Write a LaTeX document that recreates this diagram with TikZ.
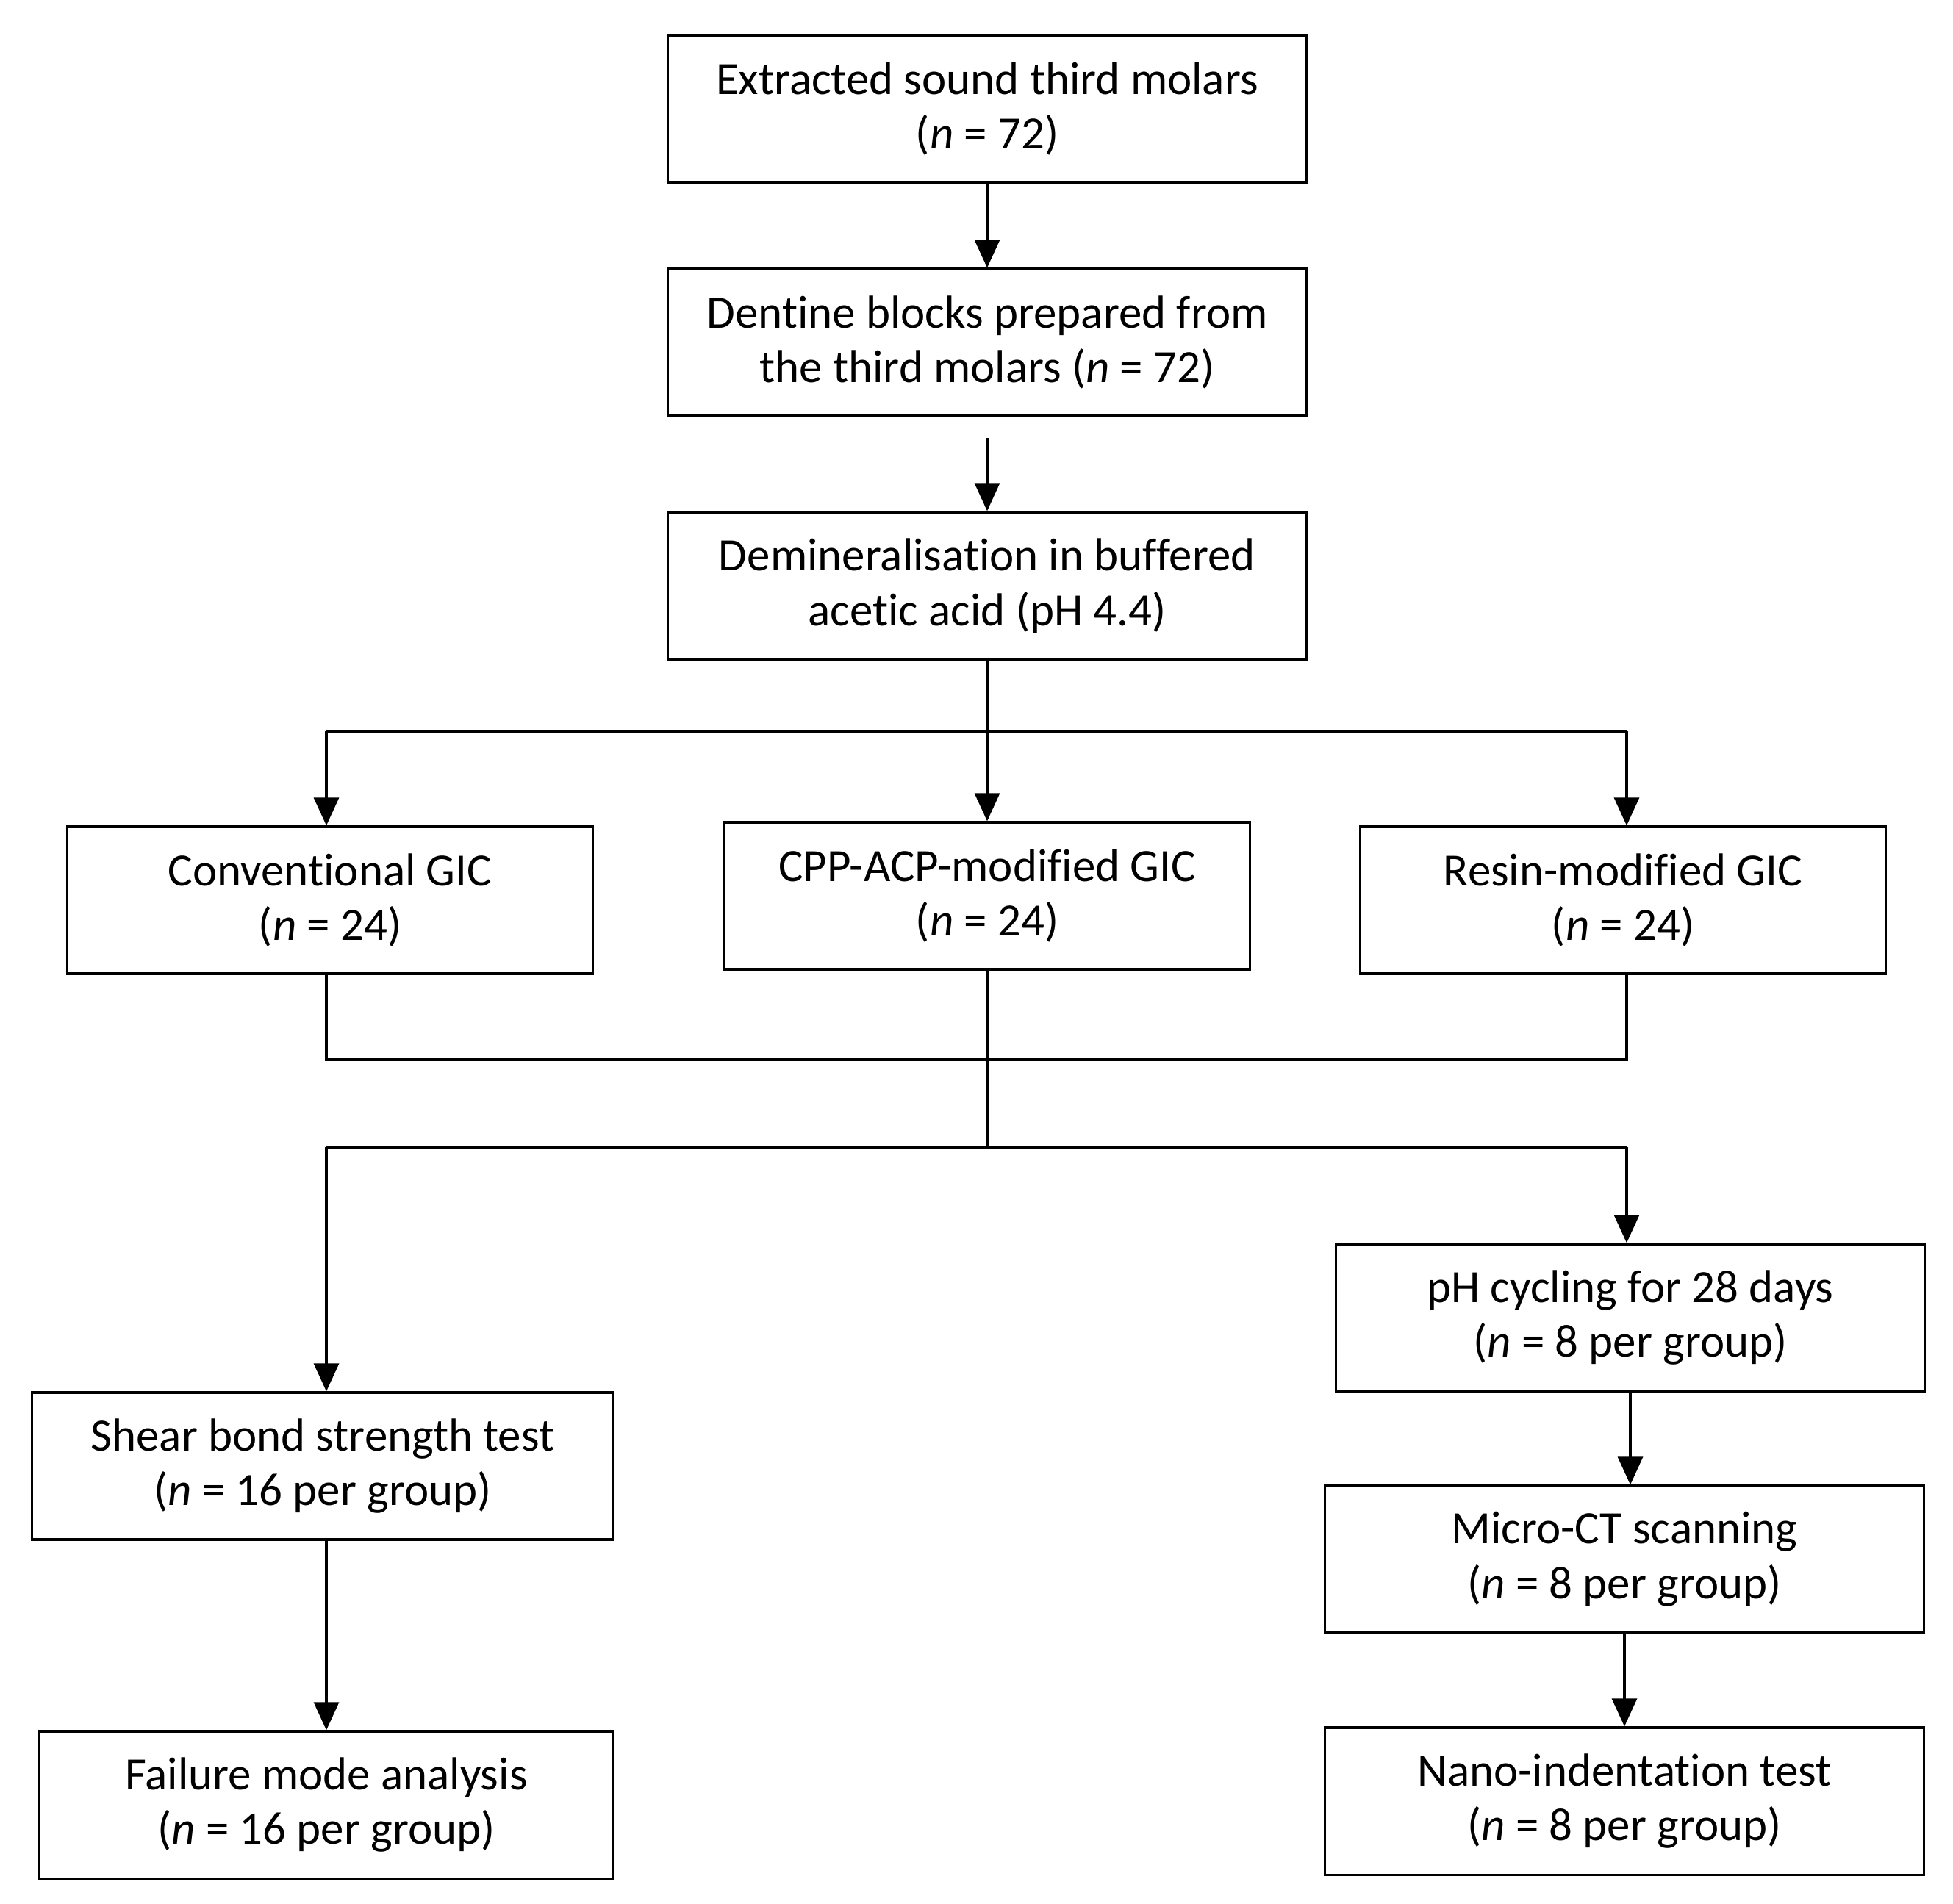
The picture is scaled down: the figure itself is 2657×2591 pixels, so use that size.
\documentclass[tikz,border=0pt]{standalone}
\usepackage{fontspec}
\setmainfont[RawFeature={-liga;-clig;-calt;-dlig}]{Carlito}
\usepackage{tikz}
\usetikzlibrary{arrows.meta, calc}

\begin{document}
\begin{tikzpicture}
		[x=0.01cm,y=-0.01cm,line cap=butt,
		%Styles
		flow box/.style={draw=framecolor,line width=0.9pt,minimum height=2cm,inner sep=0pt,
			align=center,font=\fontsize{17.9}{21.3}\selectfont,minimum width=#1},
		flow line/.style={draw=framecolor,line width=0.9pt},
		flow arrow/.style={flow line,-{Triangle[length=0.38cm,width=0.34cm]}}
		]
		
		%Colors
		\colorlet{framecolor}{black}	%boxes and connectors
		
		%The graphic
		\useasboundingbox (0,0) rectangle (2657,2591);
		
		\node[flow box=8.69cm] (extracted) at (1343,148) {Extracted sound third molars\\(\textit{n} = 72)};
		\node[flow box=8.69cm] (dentine) at (1343,466) {Dentine blocks prepared from\\the third molars (\textit{n} = 72)};
		\node[flow box=8.69cm] (demin) at (1343,797) {Demineralisation in buffered\\acetic acid (pH 4.4)};
		
		\node[flow box=7.15cm] (conv) at (449,1225) {Conventional GIC\\(\textit{n} = 24)};
		\node[flow box=7.15cm] (cppacp) at (1343,1219) {CPP-ACP-modified GIC\\(\textit{n} = 24)};
		\node[flow box=7.15cm] (resin) at (2208,1225) {Resin-modified GIC\\(\textit{n} = 24)};
		
		\node[flow box=8.0cm] (cycling) at (2218,1793) {pH cycling for 28 days\\(\textit{n} = 8 per group)};
		\node[flow box=8.15cm] (microct) at (2210,2122) {Micro-CT scanning\\(\textit{n} = 8 per group)};
		\node[flow box=8.15cm] (nano) at (2210,2451) {Nano-indentation test\\(\textit{n} = 8 per group)};
		
		\node[flow box=7.9cm] (shear) at (439,1995) {Shear bond strength test\\(\textit{n} = 16 per group)};
		\node[flow box=7.8cm] (failure) at (444,2456) {Failure mode analysis\\(\textit{n} = 16 per group)};
		
		\coordinate (split) at (1343,995);
		\coordinate (merge) at (1343,1442);
		\coordinate (fork) at (1343,1561);
		\coordinate (left lane) at (444,0);
		\coordinate (right lane) at (2213,0);
		
		\draw[flow arrow] (extracted) -- (dentine);
		\draw[flow arrow,shorten <=8pt] (dentine) -- (demin);
		
		\draw[flow line] (demin) -- (split);
		\draw[flow line] (left lane |- split) -- (right lane |- split);
		\draw[flow arrow] (split) -- (cppacp);
		\draw[flow arrow] (left lane |- split) -- (left lane |- conv.north);
		\draw[flow arrow] (right lane |- split) -- (right lane |- resin.north);
		
		\draw[flow line] (left lane |- conv.south) -- (left lane |- merge) -- (right lane |- merge) -- (right lane |- resin.south);
		\draw[flow line] (cppacp) -- (fork);
		\draw[flow line] (left lane |- fork) -- (right lane |- fork);
		\draw[flow arrow] (left lane |- fork) -- (left lane |- shear.north);
		\draw[flow arrow] (right lane |- fork) -- (right lane |- cycling.north);
		
		\draw[flow arrow] (cycling.south) -- (cycling.south |- microct.north);
		\draw[flow arrow] (microct.south) -- (microct.south |- nano.north);
		\draw[flow arrow] (left lane |- shear.south) -- (left lane |- failure.north);
	\end{tikzpicture}
\end{document}
